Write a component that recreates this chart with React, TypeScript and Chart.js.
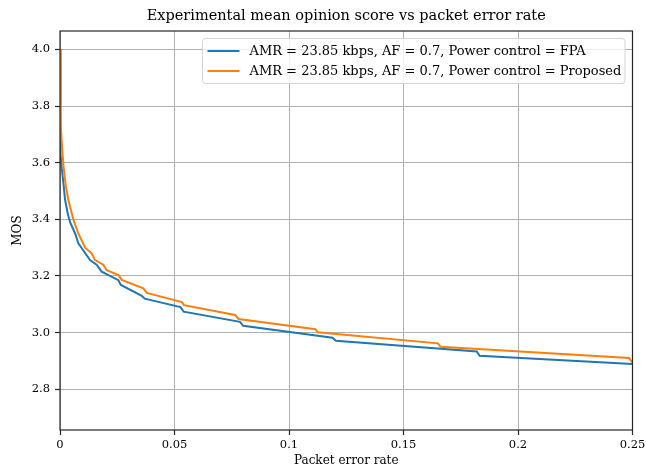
import React, { useEffect, useRef } from "react";
import { Chart, registerables } from "chart.js";

Chart.register(...registerables);

const TITLE = "Experimental mean opinion score vs packet error rate";
const X_LABEL = "Packet error rate";
const Y_LABEL = "MOS";
const SERIES_NAMES = [
  "AMR = 23.85 kbps, AF = 0.7, Power control = FPA",
  "AMR = 23.85 kbps, AF = 0.7, Power control = Proposed",
];
const COLORS = ["#1f77b4", "#ff7f0e"];

const xFPA = [0, 0.0001, 0.0002, 0.0004, 0.0007, 0.0015, 0.0022, 0.0034, 0.0044, 0.0066, 0.008, 0.0102, 0.0131, 0.016, 0.0182, 0.0218, 0.0255, 0.0266, 0.0357, 0.037, 0.0526, 0.054, 0.0786, 0.08, 0.119, 0.1205, 0.182, 0.1832, 0.25];
const yFPA = [4.0, 3.82, 3.72, 3.63, 3.585, 3.527, 3.47, 3.42, 3.39, 3.35, 3.315, 3.29, 3.256, 3.24, 3.215, 3.2, 3.185, 3.168, 3.13, 3.12, 3.09, 3.074, 3.038, 3.024, 2.982, 2.971, 2.933, 2.918, 2.889];

const xProp = [0, 0.0001, 0.0003, 0.0007, 0.0015, 0.0025, 0.0036, 0.0058, 0.008, 0.011, 0.0138, 0.0153, 0.0189, 0.0204, 0.0255, 0.027, 0.0364, 0.0379, 0.0532, 0.0541, 0.0765, 0.078, 0.1115, 0.1125, 0.165, 0.1662, 0.2485, 0.2497, 0.25];
const yProp = [4.0, 3.86, 3.76, 3.68, 3.59, 3.52, 3.47, 3.4, 3.35, 3.3, 3.28, 3.256, 3.24, 3.22, 3.203, 3.186, 3.156, 3.14, 3.108, 3.097, 3.062, 3.048, 3.012, 3.001, 2.962, 2.95, 2.91, 2.897, 2.896];

const xTicks = [0, 0.05, 0.1, 0.15, 0.2, 0.25];
const xTickLabels = ["0", "0.05", "0.1", "0.15", "0.2", "0.25"];
const yTicks = [2.8, 3.0, 3.2, 3.4, 3.6, 3.8, 4.0];
const yTickLabels = ["2.8", "3.0", "3.2", "3.4", "3.6", "3.8", "4.0"];
const X_MIN = 0, X_MAX = 0.25, Y_MIN = 2.656, Y_MAX = 4.065;

const FONT = "'DejaVu Serif', 'Liberation Serif', serif";

export default function App() {
  const ref = useRef<HTMLCanvasElement | null>(null);
  useEffect(() => {
    const canvas = ref.current;
    if (!canvas) return;
    const toPts = (xs: number[], ys: number[]) => xs.map((x, i) => ({ x, y: ys[i] }));

    const framePlugin = {
      id: "frame",
      afterDatasetsDraw(chart: any) {
        const { ctx, chartArea: a } = chart;
        ctx.save();
        ctx.strokeStyle = "#262626";
        ctx.lineWidth = 1.2;
        ctx.strokeRect(a.left, a.top, a.right - a.left, a.bottom - a.top);
        ctx.restore();
      },
    };

    const legendPlugin = {
      id: "mplLegend",
      afterDraw(chart: any) {
        const { ctx } = chart;
        const bx = 202.5, by = 38.5, bw = 422.5, bh = 45, r = 3;
        ctx.save();
        ctx.beginPath();
        ctx.moveTo(bx + r, by);
        ctx.lineTo(bx + bw - r, by);
        ctx.quadraticCurveTo(bx + bw, by, bx + bw, by + r);
        ctx.lineTo(bx + bw, by + bh - r);
        ctx.quadraticCurveTo(bx + bw, by + bh, bx + bw - r, by + bh);
        ctx.lineTo(bx + r, by + bh);
        ctx.quadraticCurveTo(bx, by + bh, bx, by + bh - r);
        ctx.lineTo(bx, by + r);
        ctx.quadraticCurveTo(bx, by, bx + r, by);
        ctx.closePath();
        ctx.fillStyle = "rgba(255,255,255,0.8)";
        ctx.fill();
        ctx.strokeStyle = "#d4d4d4";
        ctx.lineWidth = 1;
        ctx.stroke();
        ctx.font = `13px ${FONT}`;
        ctx.textBaseline = "middle";
        ctx.fillStyle = "#000";
        SERIES_NAMES.forEach((name, i) => {
          const y = by + 12.5 + i * 20;
          ctx.strokeStyle = COLORS[i];
          ctx.lineWidth = 2;
          ctx.beginPath();
          ctx.moveTo(bx + 5, y);
          ctx.lineTo(bx + 37, y);
          ctx.stroke();
          ctx.fillText(name, bx + 47, y + 1);
        });
        ctx.restore();
      },
    };

    const chart = new Chart(canvas, {
      type: "line",
      data: {
        datasets: [
          { label: SERIES_NAMES[0], data: toPts(xFPA, yFPA), borderColor: COLORS[0], backgroundColor: COLORS[0], borderWidth: 2, pointRadius: 0, tension: 0, order: 2 },
          { label: SERIES_NAMES[1], data: toPts(xProp, yProp), borderColor: COLORS[1], backgroundColor: COLORS[1], borderWidth: 2, pointRadius: 0, tension: 0, order: 1 },
        ],
      },
      options: {
        responsive: false,
        animation: false,
        layout: { padding: { left: 0, right: 13.5, top: 0, bottom: 0 } },
        plugins: {
          legend: { display: false },
          tooltip: { enabled: false },
          title: {
            display: true,
            text: TITLE,
            fullSize: false,
            color: "#000",
            font: { family: FONT, size: 14.5, weight: "normal" },
            padding: { top: 8, bottom: 5.6 },
          },
        },
        scales: {
          x: {
            type: "linear",
            min: X_MIN,
            max: X_MAX,
            afterFit: (s: any) => { s.height = 39; s.paddingLeft = 0; s.paddingRight = 0; },
            afterBuildTicks: (s: any) => { s.ticks = xTicks.map((v) => ({ value: v })); },
            ticks: {
              callback: (v: any) => xTickLabels[xTicks.findIndex((t) => Math.abs(t - v) < 1e-9)] ?? "",
              color: "#000",
              font: { family: FONT, size: 11.5 },
              padding: 3,
              maxRotation: 0,
            },
            grid: { color: "#b0b0b0", lineWidth: 1, tickLength: 5, tickColor: "#262626", tickWidth: 1.2 },
            border: { display: false },
            title: { display: true, text: X_LABEL, color: "#000", font: { family: FONT, size: 12 }, padding: { top: 0, bottom: 1 } },
          },
          y: {
            type: "linear",
            min: Y_MIN,
            max: Y_MAX,
            afterFit: (s: any) => { s.width = 60; s.paddingTop = 0; s.paddingBottom = 0; },
            afterBuildTicks: (s: any) => { s.ticks = yTicks.map((v) => ({ value: v })); },
            ticks: {
              callback: (v: any) => yTickLabels[yTicks.findIndex((t) => Math.abs(t - v) < 1e-9)] ?? "",
              color: "#000",
              font: { family: FONT, size: 11.5 },
              padding: 5,
            },
            grid: { color: "#b0b0b0", lineWidth: 1, tickLength: 5, tickColor: "#262626", tickWidth: 1.2 },
            border: { display: false },
            title: { display: true, text: Y_LABEL, color: "#000", font: { family: FONT, size: 12 }, padding: { top: 11, bottom: 0 } },
          },
        },
      },
      plugins: [framePlugin, legendPlugin],
    } as any);
    return () => chart.destroy();
  }, []);

  return (
    <div style={{ position: "fixed", left: 0, top: 0, width: 646, height: 469, background: "#fff" }}>
      <canvas ref={ref} width={646} height={469} style={{ width: 646, height: 469, display: "block" }} />
    </div>
  );
}
